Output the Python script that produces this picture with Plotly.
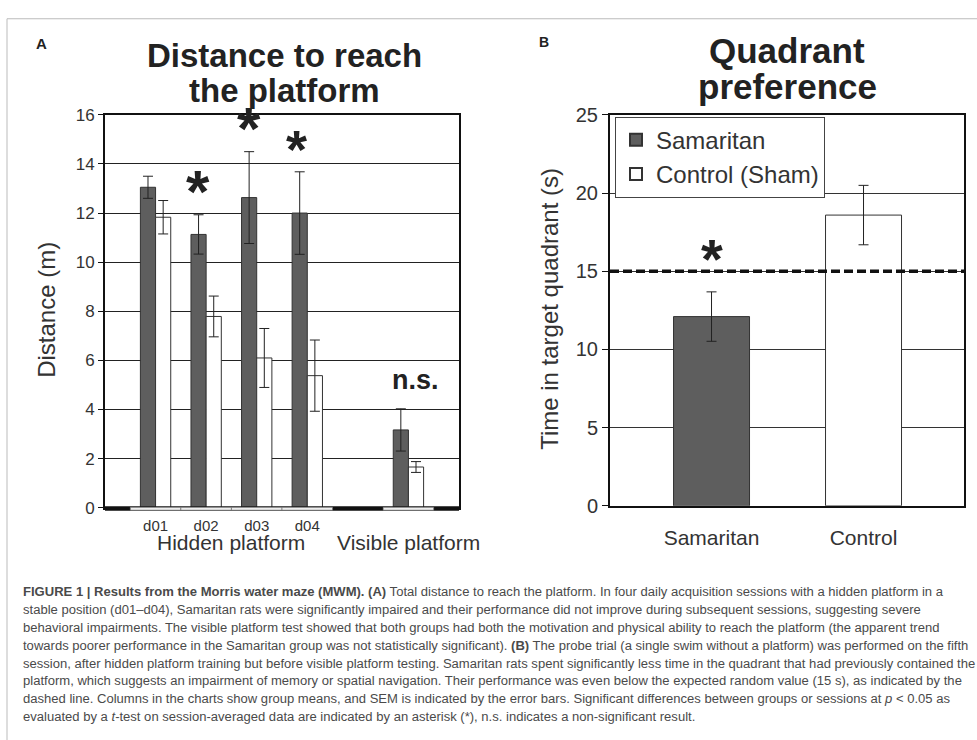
import plotly.graph_objects as go

# ---------------- data ----------------
session_labels = ["d01", "d02", "d03", "d04"]
session_pos = [0, 1, 2, 3, 5]          # category slots (slot 4 empty)
samaritan_dist = [13.05, 11.13, 12.63, 12.0, 3.17]
samaritan_dist_sem = [0.45, 0.80, 1.87, 1.68, 0.86]
control_dist = [11.83, 7.79, 6.10, 5.38, 1.66]
control_dist_sem = [0.68, 0.83, 1.20, 1.45, 0.22]

groups_b = ["Samaritan", "Control"]
groups_b_pos = [0, 1]
time_in_quadrant = [12.1, 18.59]
time_in_quadrant_sem = [1.58, 1.90]
chance_level = 15

dist_ticks = [0, 2, 4, 6, 8, 10, 12, 14, 16]
time_ticks = [0, 5, 10, 15, 20, 25]

W, H = 977, 740
FONT = "Liberation Sans, Arial, sans-serif"
DARK = "#5e5e5e"
TXT = "#333333"


def px(x):
    return x / W


def py(y):
    return 1 - y / H


fig = go.Figure()

err_style = dict(type="data", thickness=1, width=5, color="#222222")

# ---- panel A ----
fig.add_trace(go.Bar(
    x=session_pos, y=samaritan_dist, width=0.3, offset=-0.3,
    marker=dict(color=DARK, line=dict(color="#333333", width=1)),
    error_y=dict(array=samaritan_dist_sem, **err_style),
    xaxis="x", yaxis="y", showlegend=False, name="Samaritan"))
fig.add_trace(go.Bar(
    x=session_pos, y=control_dist, width=0.3, offset=0,
    marker=dict(color="white", line=dict(color="#333333", width=1)),
    error_y=dict(array=control_dist_sem, **err_style),
    xaxis="x", yaxis="y", showlegend=False, name="Control (Sham)"))

# ---- panel B ----
fig.add_trace(go.Bar(
    x=[groups_b_pos[0]], y=[time_in_quadrant[0]], width=0.5,
    marker=dict(color=DARK, line=dict(color="#333333", width=1)),
    error_y=dict(array=[time_in_quadrant_sem[0]], **err_style),
    xaxis="x2", yaxis="y2", name="Samaritan"))
fig.add_trace(go.Bar(
    x=[groups_b_pos[1]], y=[time_in_quadrant[1]], width=0.5,
    marker=dict(color="white", line=dict(color="#333333", width=1)),
    error_y=dict(array=[time_in_quadrant_sem[1]], **err_style),
    xaxis="x2", yaxis="y2", name="Control (Sham)"))

axis_common = dict(showline=True, mirror=True, linecolor="#111111", linewidth=2,
                   zeroline=False)

fig.update_layout(
    width=W, height=H, margin=dict(l=0, r=0, t=0, b=0),
    paper_bgcolor="white", plot_bgcolor="white",
    barmode="overlay",
    font=dict(family=FONT, color=TXT),
    xaxis=dict(domain=[px(105), px(459)], range=[-1, 6],
               tickvals=session_pos[:4], ticktext=session_labels,
               tickfont=dict(size=15, color=TXT), ticks="", showgrid=False,
               ticklabelstandoff=3, **axis_common),
    yaxis=dict(domain=[py(512), py(107)], range=[0, 16], tickvals=dist_ticks,
               tickfont=dict(size=17, color=TXT), ticks="outside", ticklen=5,
               tickcolor="#111", showgrid=True, gridcolor="#222222", gridwidth=1,
               **axis_common),
    xaxis2=dict(domain=[px(610), px(964)], range=[-0.668, 1.661],
                tickvals=groups_b_pos, ticktext=groups_b,
                tickfont=dict(size=21, color=TXT), ticks="", showgrid=False,
                ticklabelstandoff=12, anchor="y2", **axis_common),
    yaxis2=dict(domain=[py(510), py(107)], range=[0, 25], tickvals=time_ticks,
                tickfont=dict(size=20, color=TXT), ticks="outside", ticklen=6,
                tickcolor="#111", showgrid=True, gridcolor="#333333", gridwidth=1,
                anchor="x2", **axis_common),
    legend=dict(x=px(615), y=py(109), xanchor="left", yanchor="top",
                bgcolor="white", bordercolor="#444444", borderwidth=1,
                font=dict(size=24, color=TXT), tracegroupgap=0,
                itemsizing="constant"),
)

shapes = []
# outer figure border
shapes.append(dict(type="rect", xref="paper", yref="paper",
                   x0=px(7), x1=px(990), y0=py(760), y1=py(8),
                   line=dict(color="#bbbbbb", width=1), fillcolor="rgba(0,0,0,0)"))
# chance level dashed line
shapes.append(dict(type="line", xref="x2 domain", yref="y2", x0=0, x1=1,
                   y0=chance_level, y1=chance_level,
                   line=dict(color="#111111", width=3.5, dash="9px,4px")))
# thick bottom band panel A
shapes.append(dict(type="rect", xref="x domain", yref="paper", x0=0, x1=1,
                   y0=py(515), y1=py(510.5), fillcolor="#111111",
                   line=dict(width=0)))
for c in session_pos:
    shapes.append(dict(type="rect", xref="x", yref="paper", x0=c - 0.5, x1=c + 0.5,
                       y0=py(514.5), y1=py(511.5), fillcolor="#eeeeee",
                       line=dict(color="#666666", width=0.6)))
fig.update_layout(shapes=shapes)

ann = []


def text(x, y, s, size, bold=False, color=TXT, xanchor="center", angle=0,
         xref="paper", yref="paper", yanchor="middle"):
    ann.append(dict(x=x, y=y, xref=xref, yref=yref, text=("<b>%s</b>" % s) if bold else s,
                    showarrow=False, xanchor=xanchor, yanchor=yanchor, textangle=angle,
                    font=dict(size=size, color=color, family=FONT)))


# panel labels and titles
text(px(41), py(34), "A", 15, bold=True, color="#222")
text(px(544), py(32), "B", 14, bold=True, color="#222")
text(px(284), py(46), "Distance to reach", 33, bold=True, color="#222")
text(px(284), py(82), "the platform", 33, bold=True, color="#222")
text(px(787), py(41), "Quadrant", 35, bold=True, color="#222")
text(px(787), py(78), "preference", 35, bold=True, color="#222")

# axis titles
text(px(47), py(308), "Distance (m)", 24, angle=-90)
text(px(550), py(307), "Time in target quadrant (s)", 24, angle=-90)

# group labels panel A
text(1.5, py(548), "Hidden platform", 21, xref="x")
text(session_pos[4], py(548), "Visible platform", 21, xref="x")

# significance marks
text(0.84, 12.89, "*", 60, bold=True, color="#222", xref="x", yref="y")
text(1.85, 15.45, "*", 60, bold=True, color="#222", xref="x", yref="y")
text(2.78, 14.62, "*", 54, bold=True, color="#222", xref="x", yref="y")
text(5.13, 5.2, "n.s.", 27, bold=True, color="#222", xref="x", yref="y")
text(0, 15.84, "*", 56, bold=True, color="#222", xref="x2", yref="y2")

# caption
caption_lines = [
    "<b>FIGURE 1 | Results from the Morris water maze (MWM). (A)</b> Total distance to reach the platform. In four daily acquisition sessions with a hidden platform in a",
    "stable position (d01–d04), Samaritan rats were significantly impaired and their performance did not improve during subsequent sessions, suggesting severe",
    "behavioral impairments. The visible platform test showed that both groups had both the motivation and physical ability to reach the platform (the apparent trend",
    "towards poorer performance in the Samaritan group was not statistically significant). <b>(B)</b> The probe trial (a single swim without a platform) was performed on the fifth",
    "session, after hidden platform training but before visible platform testing. Samaritan rats spent significantly less time in the quadrant that had previously contained the",
    "platform, which suggests an impairment of memory or spatial navigation. Their performance was even below the expected random value (15 s), as indicated by the",
    "dashed line. Columns in the charts show group means, and SEM is indicated by the error bars. Significant differences between groups or sessions at <i>p</i> &lt; 0.05 as",
    "evaluated by a <i>t</i>-test on session-averaged data are indicated by an asterisk (*), n.s. indicates a non-significant result.",
]
for i, line in enumerate(caption_lines):
    text(px(21), py(598 + 18.5 * i), line, 13.05, color="#4a4a4a", xanchor="left")

fig.update_layout(annotations=ann)
fig.write_html("out.html", config={"displayModeBar": False},
               post_script="document.body.style.margin='0px';document.body.style.overflow='hidden';")
